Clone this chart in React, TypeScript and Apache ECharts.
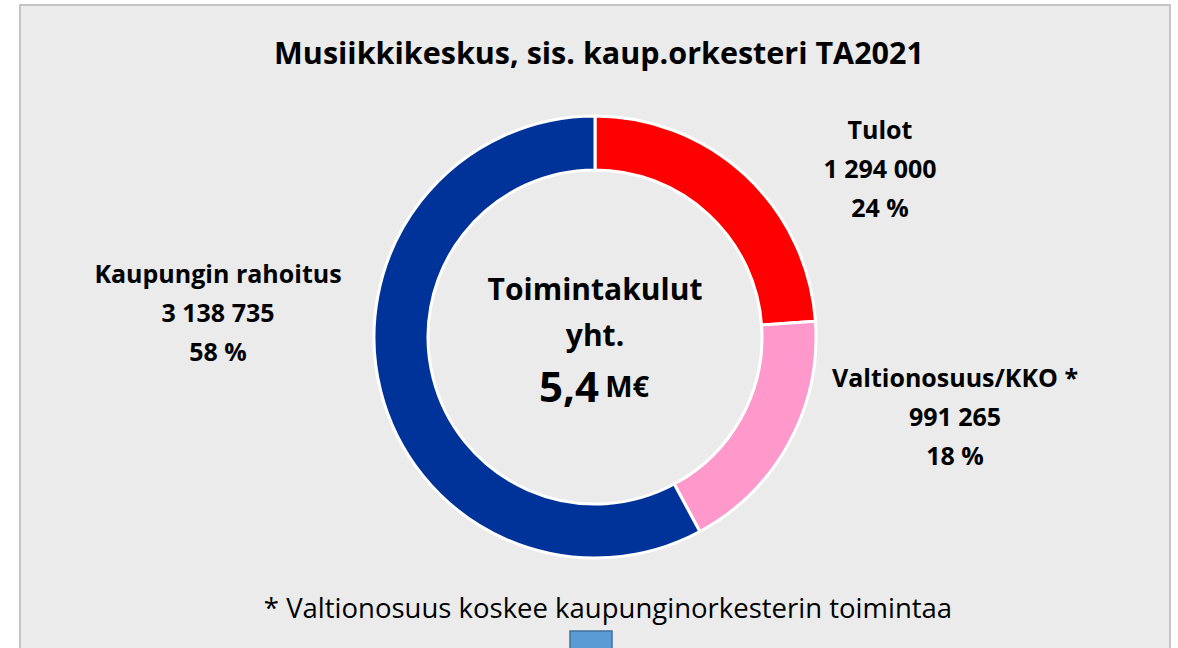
import React, { useEffect, useRef } from "react";
import * as echarts from "echarts";

const title = "Musiikkikeskus, sis. kaup.orkesteri TA2021";
const categories = ["Tulot", "Valtionosuus/KKO *", "Kaupungin rahoitus"];
const values = [1294000, 991265, 3138735];
const percents = [24, 18, 58];
const colors = ["#ff0000", "#ff99cc", "#003399"];
const centerLines = ["Toimintakulut", "yht."];
const centerValue = "5,4";
const centerUnit = "M€";
const footnote = "* Valtionosuus koskee kaupunginorkesterin toimintaa";

const FONT = "'Open Sans', sans-serif";

function fmt(n: number): string {
  return String(n).replace(/\B(?=(\d{3})+(?!\d))/g, " ");
}

const labelPos = [
  { x: 880, y: 168 },
  { x: 955, y: 416 },
  { x: 218, y: 312 },
];

export default function App() {
  const ref = useRef<HTMLDivElement>(null);
  useEffect(() => {
    if (!ref.current) return;
    const chart = echarts.init(ref.current, null, { renderer: "svg" });
    chart.setOption({
      animation: false,
      backgroundColor: "#ffffff",
      title: {
        text: title,
        left: 594,
        top: 31,
        textAlign: "center",
        textStyle: { fontFamily: FONT, fontWeight: "bold", fontSize: 30.5, color: "#000" },
      },
      graphic: [
        {
          type: "rect",
          z: -10,
          shape: { x: 20, y: 5, width: 1150, height: 660 },
          style: { fill: "#ebebeb", stroke: "#c4c4c4", lineWidth: 2 },
        },
        {
          type: "text",
          x: 595,
          y: 288,
          style: {
            text: centerLines[0],
            align: "center",
            verticalAlign: "middle",
            font: `bold 30px ${FONT}`,
            fill: "#000",
          },
        },
        {
          type: "text",
          x: 595,
          y: 334,
          style: {
            text: centerLines[1],
            align: "center",
            verticalAlign: "middle",
            font: `bold 30px ${FONT}`,
            fill: "#000",
          },
        },
        {
          type: "text",
          x: 594,
          y: 385,
          style: {
            text: `{a|${centerValue}}{s| }{b|${centerUnit}}`,
            align: "center",
            verticalAlign: "middle",
            rich: {
              a: { font: `bold 42px ${FONT}`, fill: "#000" },
              s: { font: `bold 24px ${FONT}`, fill: "#000" },
              b: { font: `bold 29px ${FONT}`, fill: "#000" },
            },
          },
        },
        {
          type: "text",
          x: 608,
          y: 607,
          style: {
            text: footnote,
            align: "center",
            verticalAlign: "middle",
            font: `27.5px ${FONT}`,
            fill: "#000",
          },
        },
        {
          type: "rect",
          shape: { x: 570, y: 631, width: 42, height: 30 },
          style: { fill: "#5b9bd5", stroke: "#41719c", lineWidth: 1.5 },
        },
      ],
      series: [
        {
          type: "pie",
          center: [595, 337],
          radius: [167, 221],
          startAngle: 90,
          clockwise: true,
          avoidLabelOverlap: false,
          itemStyle: { borderColor: "#ffffff", borderWidth: 3 },
          label: {
            show: true,
            position: "outside",
            formatter: (p: any) => `${p.name}\n${fmt(p.value)}\n${percents[p.dataIndex]} %`,
            fontFamily: FONT,
            fontWeight: "bold",
            fontSize: 25,
            lineHeight: 39,
            color: "#000",
            align: "center",
            verticalAlign: "middle",
          },
          labelLine: { show: false },
          labelLayout: (params: any) => ({
            x: labelPos[params.dataIndex].x,
            y: labelPos[params.dataIndex].y,
            align: "center",
            verticalAlign: "middle",
          }),
          emphasis: { disabled: true },
          data: categories.map((c, i) => ({
            name: c,
            value: values[i],
            itemStyle: { color: colors[i] },
          })),
        },
      ],
    });
    return () => chart.dispose();
  }, []);
  return (
    <div
      ref={ref}
      style={{ position: "fixed", left: 0, top: 0, width: 1178, height: 648 }}
    />
  );
}
